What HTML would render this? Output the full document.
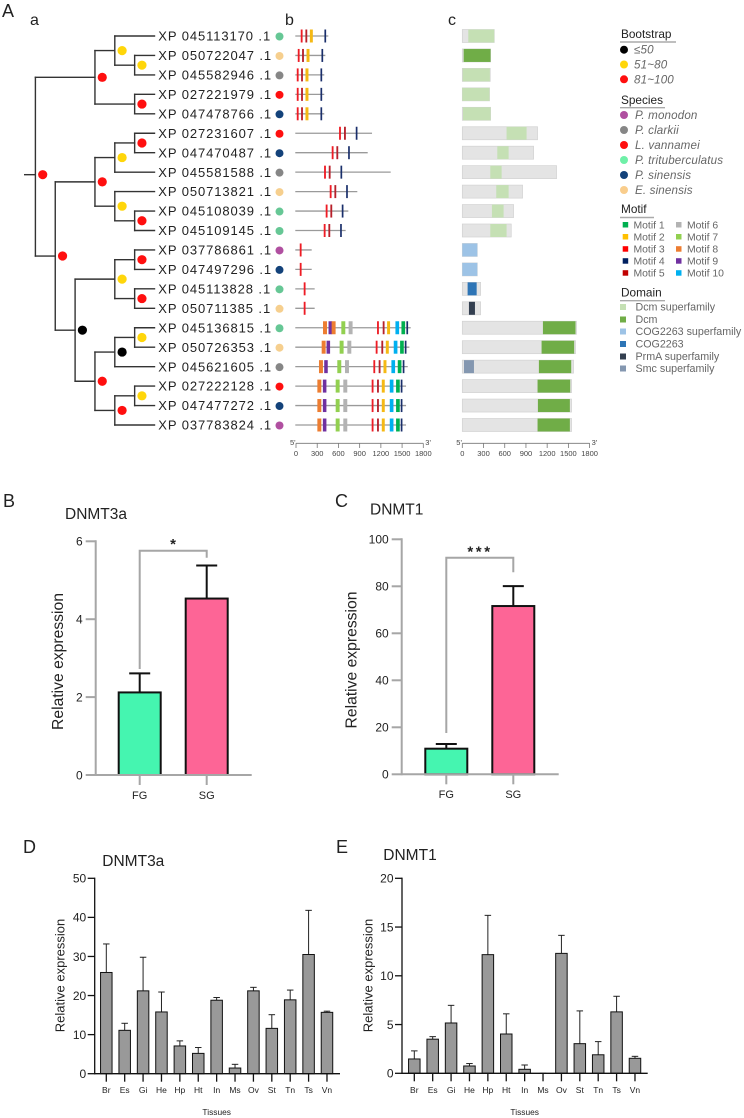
<!DOCTYPE html>
<html lang="en">
<head>
<meta charset="utf-8">
<title>DNMT phylogeny, motifs, domains and expression</title>
<style>
html,body{margin:0;padding:0;background:#fff;}
svg{display:block;font-family:"Liberation Sans",sans-serif;}
.panel-letter{font-size:18px;fill:#222;}
.sub-letter{font-size:16px;fill:#222;}
.leg-head{font-size:11.8px;fill:#222;}
.leg-i{font-size:11.6px;font-style:italic;fill:#666;letter-spacing:.15px;}
.leg-t{font-size:10.4px;fill:#666;}
.leg-d{font-size:10.7px;fill:#666;}
</style>
</head>
<body>
<svg id="figure" xmlns="http://www.w3.org/2000/svg" width="744" height="1118" viewBox="0 0 744 1118">
<rect x="0" y="0" width="744" height="1118" fill="#fff"/>
<text class="panel-letter" x="2" y="17">A</text>
<text class="sub-letter" x="30" y="25">a</text>
<text class="sub-letter" x="285" y="25">b</text>
<text class="sub-letter" x="448" y="25">c</text>
<text class="panel-letter" x="3" y="507">B</text>
<text class="panel-letter" x="335" y="507">C</text>
<text class="panel-letter" x="23" y="853">D</text>
<text class="panel-letter" x="336" y="853">E</text>

<g id="tree"></g>
<g id="motifs"></g>
<g id="domains"></g>

<g>
<text class="leg-head" x="621" y="38">Bootstrap</text>
<line x1="620" x2="676" y1="42" y2="42" stroke="#aaa" stroke-width="1.4"/>
<circle cx="624" cy="49.7" r="4" fill="#000"/>
<text class="leg-i" x="634" y="53.7">≤50</text>
<circle cx="624" cy="64.5" r="4" fill="#ffd60a"/>
<text class="leg-i" x="634" y="68.5">51~80</text>
<circle cx="624" cy="79.3" r="4" fill="#ff0f0f"/>
<text class="leg-i" x="634" y="83.4">81~100</text>
</g>

<g>
<text class="leg-head" x="621" y="104">Species</text>
<line x1="620" x2="665" y1="107.7" y2="107.7" stroke="#aaa" stroke-width="1.4"/>
<circle cx="624" cy="115" r="4" fill="#b04fa0"/>
<text class="leg-i" x="635" y="119">P. monodon</text>
<circle cx="624" cy="130" r="4" fill="#868686"/>
<text class="leg-i" x="635" y="134">P. clarkii</text>
<circle cx="624" cy="145" r="4" fill="#ff0f0f"/>
<text class="leg-i" x="635" y="149">L. vannamei</text>
<circle cx="624" cy="160" r="4" fill="#6ff0a8"/>
<text class="leg-i" x="635" y="164">P. trituberculatus</text>
<circle cx="624" cy="175" r="4" fill="#13427a"/>
<text class="leg-i" x="635" y="179">P. sinensis</text>
<circle cx="624" cy="190" r="4" fill="#f9cd8c"/>
<text class="leg-i" x="635" y="194">E. sinensis</text>
</g>

<g>
<text class="leg-head" x="621" y="213">Motif</text>
<line x1="620" x2="654" y1="217.5" y2="217.5" stroke="#aaa" stroke-width="1.4"/>
<rect x="622.7" y="222" width="5.5" height="5.5" fill="#00b050"/>
<text class="leg-t" x="633.5" y="228.5">Motif 1</text>
<rect x="622.7" y="234" width="5.5" height="5.5" fill="#ffc000"/>
<text class="leg-t" x="633.5" y="240.5">Motif 2</text>
<rect x="622.7" y="246.2" width="5.5" height="5.5" fill="#ff0000"/>
<text class="leg-t" x="633.5" y="252.7">Motif 3</text>
<rect x="622.7" y="258.2" width="5.5" height="5.5" fill="#002060"/>
<text class="leg-t" x="633.5" y="264.7">Motif 4</text>
<rect x="622.7" y="270.2" width="5.5" height="5.5" fill="#c00000"/>
<text class="leg-t" x="633.5" y="276.7">Motif 5</text>
<rect x="676" y="222" width="5.5" height="5.5" fill="#b3b3b3"/>
<text class="leg-t" x="687" y="228.5">Motif 6</text>
<rect x="676" y="234" width="5.5" height="5.5" fill="#92d050"/>
<text class="leg-t" x="687" y="240.5">Motif 7</text>
<rect x="676" y="246.2" width="5.5" height="5.5" fill="#ed7d31"/>
<text class="leg-t" x="687" y="252.7">Motif 8</text>
<rect x="676" y="258.2" width="5.5" height="5.5" fill="#7030a0"/>
<text class="leg-t" x="687" y="264.7">Motif 9</text>
<rect x="676" y="270.2" width="5.5" height="5.5" fill="#00b0f0"/>
<text class="leg-t" x="687" y="276.7">Motif 10</text>
</g>

<g>
<text class="leg-head" x="621" y="296.5">Domain</text>
<line x1="620" x2="665" y1="300.7" y2="300.7" stroke="#aaa" stroke-width="1.4"/>
<rect x="620" y="304" width="6" height="6" fill="#c5e0b4"/>
<text class="leg-d" x="635.5" y="310.7">Dcm superfamily</text>
<rect x="620" y="316.5" width="6" height="6" fill="#70ad47"/>
<text class="leg-d" x="635.5" y="323">Dcm</text>
<rect x="620" y="328.5" width="6" height="6" fill="#9dc3e6"/>
<text class="leg-d" x="635.5" y="335">COG2263 superfamily</text>
<rect x="620" y="341" width="6" height="6" fill="#2e75b6"/>
<text class="leg-d" x="635.5" y="347.5">COG2263</text>
<rect x="620" y="353.5" width="6" height="6" fill="#333f50"/>
<text class="leg-d" x="635.5" y="360">PrmA superfamily</text>
<rect x="620" y="365.5" width="6" height="6" fill="#8497b0"/>
<text class="leg-d" x="635.5" y="372">Smc superfamily</text>
</g>

<g id="chartB"></g>
<g id="chartC"></g>
<g id="chartD"></g>
<g id="chartE"></g>
</svg>

<script>
/* ---------- Data ---------- */
var accessions = ["XP 045113170 .1","XP 050722047 .1","XP 045582946 .1","XP 027221979 .1","XP 047478766 .1","XP 027231607 .1","XP 047470487 .1","XP 045581588 .1","XP 050713821 .1","XP 045108039 .1","XP 045109145 .1","XP 037786861 .1","XP 047497296 .1","XP 045113828 .1","XP 050711385 .1","XP 045136815 .1","XP 050726353 .1","XP 045621605 .1","XP 027222128 .1","XP 047477272 .1","XP 037783824 .1"];
var speciesOfRow = ["tri","ers","cla","van","sin","van","sin","cla","ers","tri","tri","mon","sin","tri","ers","tri","ers","cla","van","sin","mon"];
var speciesColors = {mon:"#b04fa0",cla:"#868686",van:"#ff0f0f",tri:"#66c795",sin:"#13427a",ers:"#f6cf8e"};
var bootstrapColors = {low:"#000000",mid:"#ffd60a",high:"#ff0f0f"};

/* tree: {b: bootstrap class, c: children}; a number is a tip row */
var treeData = {b:"high",c:[
  {b:"high",c:[
    {b:"mid",c:[0,{b:"mid",c:[1,2]}]},
    {b:"high",c:[3,4]}
  ]},
  {b:"high",c:[
    {b:"high",c:[
      {b:"mid",c:[{b:"high",c:[5,6]},7]},
      {b:"mid",c:[8,{b:"high",c:[9,10]}]}
    ]},
    {b:"low",c:[
      {b:"mid",c:[{b:"high",c:[11,12]},{b:"high",c:[13,14]}]},
      {b:"high",c:[
        {b:"low",c:[{b:"mid",c:[15,16]},17]},
        {b:"high",c:[{b:"mid",c:[18,19]},20]}
      ]}
    ]}
  ]}
]};

var geneLengths = [457,415,400,400,400,1075,1014,1339,867,740,702,222,222,264,264,1622,1603,1580,1556,1556,1556];
var motifKinds = {
  short:[3,5,2,4],
  mid:[3,5,4],
  tiny:[3],
  full16:[8,9,8,7,6,3,5,2,10,1,4],
  full:[8,9,7,6,3,5,2,10,1,4]
};
var rowMotifKinds = ["short","short","short","short","short","mid","mid","mid","mid","mid","mid","tiny","tiny","tiny","tiny","full16","full","full","full","full","full"];
var motifCenters = [
 [80,146,217,414],[38,99,170,372],[24,85,155,358],[24,85,155,358],[24,85,155,358],
 [622,692,857],[518,584,749],[410,476,641],[490,556,721],[433,499,659],[405,471,636],
 [66],[66],[122],[122],
 [410,485,532,669,772,1159,1239,1309,1432,1517,1573],
 [391,457,645,754,1140,1220,1291,1408,1498,1550],
 [353,424,612,721,1107,1182,1258,1375,1465,1521],
 [330,405,589,697,1083,1159,1234,1352,1441,1493],
 [330,405,589,697,1083,1159,1234,1352,1441,1493],
 [330,405,589,697,1083,1159,1234,1352,1441,1493]
];
var motifColors = {1:"#00b050",2:"#f5b914",3:"#ee1c25",4:"#1a2f6b",5:"#b7202a",6:"#b3b3b3",7:"#92d050",8:"#ed7d31",9:"#7030a0",10:"#00b0f0"};
var motifSpans = {1:52,2:42,3:26,4:24,5:26,6:56,7:56,8:56,9:50,10:52};

var domainTotals = [452,400,395,385,400,1064,1008,1333,852,725,692,212,212,259,259,1615,1601,1573,1545,1545,1545];
var domainParts = [
 [["dsf",85,452]],[["dcm",19,400]],[["dsf",5,390]],[["dsf",0,385]],[["dsf",10,400]],
 [["dsf",626,909]],[["dsf",495,655]],[["dsf",396,556]],[["dsf",480,655]],[["dsf",419,584]],[["dsf",396,626]],
 [["csf",0,212]],[["csf",0,212]],[["cog",75,203]],[["prm",94,179]],
 [["dcm",1140,1601]],[["dcm",1121,1582]],[["smc",24,165],["dcm",1083,1540]],[["dcm",1064,1526]],[["dcm",1069,1521]],[["dcm",1064,1521]]
];
var domainColors = {dsf:"#c5e0b4",dcm:"#70ad47",csf:"#9dc3e6",cog:"#2e75b6",prm:"#333f50",smc:"#8497b0"};
var lengthTicks = [0,300,600,900,1200,1500,1800];

var groupCategories = ["FG","SG"];
var groupColors = ["#45f5b0","#fd6596"];
var dnmt3aGroupValues = [2.12,4.53];
var dnmt3aGroupErrors = [2.61,5.38];
var dnmt3aGroupTicks = [0,2,4,6];
var dnmt1GroupValues = [10.9,71.6];
var dnmt1GroupErrors = [12.9,80.1];
var dnmt1GroupTicks = [0,20,40,60,80,100];

var tissues = ["Br","Es","Gi","He","Hp","Ht","In","Ms","Ov","St","Tn","Ts","Vn"];
var dnmt3aTissueValues = [25.9,11.1,21.2,15.8,7.1,5.2,18.8,1.45,21.2,11.6,18.9,30.5,15.7];
var dnmt3aTissueErrors = [33.2,12.9,29.8,20.9,8.4,6.7,19.5,2.4,22.1,15.1,21.4,41.8,16.0];
var dnmt3aTissueTicks = [0,10,20,30,40,50];
var dnmt1TissueValues = [1.47,3.5,5.16,0.75,12.17,4.03,0.41,0,12.3,3.04,1.9,6.3,1.54];
var dnmt1TissueErrors = [2.3,3.76,6.97,1.0,16.2,6.1,0.85,0,14.15,6.4,3.25,7.9,1.74];
var dnmt1TissueTicks = [0,5,10,15,20];

/* ---------- Helpers ---------- */
var NS = "http://www.w3.org/2000/svg";
function make(tag, parent, props, txt) {
  var n = document.createElementNS(NS, tag);
  for (var k in props) n.setAttribute(k, props[k]);
  if (txt !== undefined) n.textContent = txt;
  parent.appendChild(n);
  return n;
}
function rowY(i) { return 36 + 19.45 * i; }

/* ---------- Tree ---------- */
var treeG = document.getElementById("tree");
var TIP_X = 154.5, LEVEL = 19.85;
function height(n) {
  if (typeof n === "number") return 0;
  var h = 0;
  n.c.forEach(function (ch) { h = Math.max(h, height(ch)); });
  return h + 1;
}
function nodeX(n) { return TIP_X - LEVEL * height(n); }
function nodeY(n) {
  if (typeof n === "number") return rowY(n);
  return (nodeY(n.c[0]) + nodeY(n.c[n.c.length - 1])) / 2;
}
var dotList = [];
function drawNode(n) {
  if (typeof n === "number") return;
  var x = nodeX(n);
  var ys = n.c.map(nodeY);
  var spine = make("line", treeG, {x1:x, x2:x, y1:ys[0], y2:ys[ys.length-1], stroke:"#333", "stroke-width":1.4, "stroke-linecap":"square"});
  
  
  n.c.forEach(function (ch, i) {
    var h = make("line", treeG, {x1:x, x2:nodeX(ch), y1:ys[i], y2:ys[i], stroke:"#333", "stroke-width":1.4, "stroke-linecap":"square"});
    
    
    drawNode(ch);
  });
  dotList.push({x:x + 7.3, y:nodeY(n), b:n.b, root:n === treeData});
}
drawNode(treeData);
var ROOT_SHIFT = 8;
var rootY = nodeY(treeData) + ROOT_SHIFT;
var stub = make("line", treeG, {x1:24, x2:nodeX(treeData), y1:rootY, y2:rootY, stroke:"#333", "stroke-width":1.4});


dotList.forEach(function (d) {
  var c = make("circle", treeG, {cx:d.x, cy:d.root ? rootY : d.y, r:4.6, fill:bootstrapColors[d.b]});
  
  
});
accessions.forEach(function (label, i) {
  var t = make("text", treeG, {x:158.3, y:rowY(i) + 4.6, "font-size":13, "letter-spacing":0.9, fill:"#222"}, label);
  
  
  var d = make("circle", treeG, {cx:279.5, cy:rowY(i) + 0.5, r:4, fill:speciesColors[speciesOfRow[i]]});
  
  
});

/* ---------- Length axes ---------- */
var PX_PER_AA = 127.3 / 1800;
function lengthAxis(parent, x0) {
  var ax = function (v) { return x0 + v * PX_PER_AA; };
  var line = make("line", parent, {x1:ax(0), x2:ax(1800), y1:443.3, y2:443.3, stroke:"#777", "stroke-width":0.8});
  
  
  lengthTicks.forEach(function (v) {
    var t = make("line", parent, {x1:ax(v), x2:ax(v), y1:443.3, y2:448, stroke:"#777", "stroke-width":0.8});
    
    
    var l = make("text", parent, {x:ax(v), y:456, "font-size":7.5, "text-anchor":"middle", fill:"#444"}, v);
    
    
  });
  var a = make("text", parent, {x:ax(0) - 6, y:445, "font-size":7.5, fill:"#444"}, "5'");
  
  
  var b = make("text", parent, {x:ax(1800) + 2, y:445, "font-size":7.5, fill:"#444"}, "3'");
  
  
  return ax;
}

/* ---------- Motifs ---------- */
var motifG = document.getElementById("motifs");
var motifX = lengthAxis(motifG, 296);
geneLengths.forEach(function (len, i) {
  var y = rowY(i);
  var ln = make("line", motifG, {x1:motifX(-10), x2:motifX(len), y1:y, y2:y, stroke:"#9a9a9a", "stroke-width":1.3});
  
  
  var kinds = motifKinds[rowMotifKinds[i]];
  motifCenters[i].forEach(function (center, j) {
    var kind = kinds[j];
    var span = motifSpans[kind];
    var r = make("rect", motifG, {x:motifX(center - span / 2), y:y - 6.5, width:span * PX_PER_AA, height:13, fill:motifColors[kind]});
    
    
  });
});

/* ---------- Domains ---------- */
var domainG = document.getElementById("domains");
var domainX = lengthAxis(domainG, 462.3);
domainTotals.forEach(function (len, i) {
  var y = rowY(i);
  var bg = make("rect", domainG, {x:domainX(0), y:y - 6.5, width:len * PX_PER_AA, height:13, fill:"#e4e4e4", stroke:"#d2d2d2", "stroke-width":0.7});
  
  
  domainParts[i].forEach(function (part) {
    var r = make("rect", domainG, {x:domainX(part[1]), y:y - 6.5, width:(part[2] - part[1]) * PX_PER_AA, height:13, fill:domainColors[part[0]]});
    
    
  });
});

/* ---------- Bar charts ---------- */
function barChart(g, cfg) {
  var yMax = cfg.ticks[cfg.ticks.length - 1];
  var sy = function (v) { return cfg.y0 - (cfg.y0 - cfg.yTop) * v / yMax; };
  var sx = function (i) { return cfg.x0 + cfg.dx * i; };

  cfg.values.forEach(function (v, i) {
    var cx = sx(i), top = sy(v), errTop = sy(cfg.errors[i]);
    var stem = make("line", g, {x1:cx, x2:cx, y1:top, y2:errTop, stroke:cfg.errStroke, "stroke-width":cfg.barSW});
    
    
    var cap = make("line", g, {x1:cx - cfg.capW / 2, x2:cx + cfg.capW / 2, y1:errTop, y2:errTop, stroke:cfg.errStroke, "stroke-width":cfg.barSW});
    
    
    var bar = make("rect", g, {x:cx - cfg.barW / 2, y:top, width:cfg.barW, height:cfg.y0 - top, fill:cfg.fills ? cfg.fills[i] : "#999", stroke:"#111", "stroke-width":cfg.barSW});
    
    
  });

  var yAxis = make("line", g, {x1:cfg.axisX, x2:cfg.axisX, y1:cfg.yTop - cfg.axisSW / 2, y2:cfg.y0 + cfg.axisSW / 2, stroke:cfg.axisColor, "stroke-width":cfg.axisSW});
  
  
  var xAxis = make("line", g, {x1:cfg.axisX, x2:cfg.axisEnd, y1:cfg.y0, y2:cfg.y0, stroke:cfg.axisColor, "stroke-width":cfg.axisSW});
  
  

  cfg.ticks.forEach(function (v) {
    var t = make("line", g, {x1:cfg.axisX - cfg.tickL, x2:cfg.axisX, y1:sy(v), y2:sy(v), stroke:cfg.axisColor, "stroke-width":cfg.axisSW});
    
    
    var l = make("text", g, {x:cfg.axisX - cfg.tickL - cfg.tickGap, y:sy(v) + cfg.tickFS * 0.36, "font-size":cfg.tickFS, "text-anchor":"end", fill:"#222"}, v);
    
    
  });
  cfg.cats.forEach(function (c, i) {
    var t = make("line", g, {x1:sx(i), x2:sx(i), y1:cfg.y0, y2:cfg.y0 + cfg.xTickL, stroke:cfg.axisColor, "stroke-width":cfg.axisSW});
    
    
    var l = make("text", g, {x:sx(i), y:cfg.catY, "font-size":cfg.catFS, "text-anchor":"middle", fill:"#222"}, c);
    
    
  });

  var title = make("text", g, {x:cfg.titleX, y:cfg.titleY, "font-size":15.5, fill:"#222"}, cfg.title);
  
  
  var yl = make("text", g, {x:0, y:0, "font-size":cfg.ylFS, "text-anchor":"middle", fill:"#222", transform:"translate(" + cfg.ylX + "," + cfg.ylY + ") rotate(-90)"}, "Relative expression");
  
  

  if (cfg.bracket) {
    var br = cfg.bracket;
    var p = make("polyline", g, {points:sx(0) + "," + br.leftY + " " + sx(0) + "," + br.topY + " " + sx(1) + "," + br.topY + " " + sx(1) + "," + br.rightY, fill:"none", stroke:"#a6a6a6", "stroke-width":2});
    
    
    var s = make("text", g, {x:br.starX, y:br.starY, "font-size":br.fs, "font-weight":"bold", "text-anchor":"middle", "letter-spacing":br.ls, fill:"#222"}, br.text);
    
    
  }
  if (cfg.xTitle) {
    var xt = make("text", g, {x:cfg.xTitleX, y:1115, "font-size":8.4, "text-anchor":"middle", fill:"#222"}, cfg.xTitle);
    
    
  }
}

var groupStyle = {cats:groupCategories, fills:groupColors, dx:67, barW:42, barSW:2, capW:21, errStroke:"#111",
  axisColor:"#a6a6a6", axisSW:2, tickL:10, tickGap:3, tickFS:12, xTickL:10, catFS:11, ylFS:15.7};
var tissueStyle = {cats:tissues, dx:18.39, barW:11.5, barSW:1, capW:6.5, errStroke:"#222",
  axisColor:"#111", axisSW:1.3, tickL:7, tickGap:1.5, tickFS:12, xTickL:8, catY:1093, catFS:8.5, ylFS:13, xTitle:"Tissues"};
function withStyle(base, extra) {
  var o = {};
  for (var k in base) o[k] = base[k];
  for (var k2 in extra) o[k2] = extra[k2];
  return o;
}

barChart(document.getElementById("chartB"), withStyle(groupStyle, {
  values:dnmt3aGroupValues, errors:dnmt3aGroupErrors, ticks:dnmt3aGroupTicks,
  x0:139.7, y0:775, yTop:541.3, axisX:95.7, axisEnd:251.7, catY:799,
  title:"DNMT3a", titleX:65, titleY:519, ylX:63, ylY:661.5,
  bracket:{leftY:669, topY:550.7, rightY:557.7, starX:173, starY:549, text:"*", fs:15, ls:0}
}));
barChart(document.getElementById("chartC"), withStyle(groupStyle, {
  values:dnmt1GroupValues, errors:dnmt1GroupErrors, ticks:dnmt1GroupTicks,
  x0:446.3, y0:774.3, yTop:539.3, axisX:401.7, axisEnd:558.7, catY:798,
  title:"DNMT1", titleX:370, titleY:514.3, ylX:356.7, ylY:660,
  bracket:{leftY:733, topY:557.7, rightY:572.3, starX:480, starY:556.5, text:"***", fs:15, ls:2.6}
}));
barChart(document.getElementById("chartD"), withStyle(tissueStyle, {
  values:dnmt3aTissueValues, errors:dnmt3aTissueErrors, ticks:dnmt3aTissueTicks,
  x0:106.3, y0:1073.7, yTop:878.3, axisX:94.7, axisEnd:340,
  title:"DNMT3a", titleX:102.3, titleY:866, ylX:64.3, ylY:975.5, xTitleX:216.7
}));
barChart(document.getElementById("chartE"), withStyle(tissueStyle, {
  values:dnmt1TissueValues, errors:dnmt1TissueErrors, ticks:dnmt1TissueTicks,
  x0:414.3, y0:1073.3, yTop:878.3, axisX:402, axisEnd:647.7,
  title:"DNMT1", titleX:383.3, titleY:860, ylX:372.7, ylY:975.5, xTitleX:524.7
}));
</script>
</body>
</html>
